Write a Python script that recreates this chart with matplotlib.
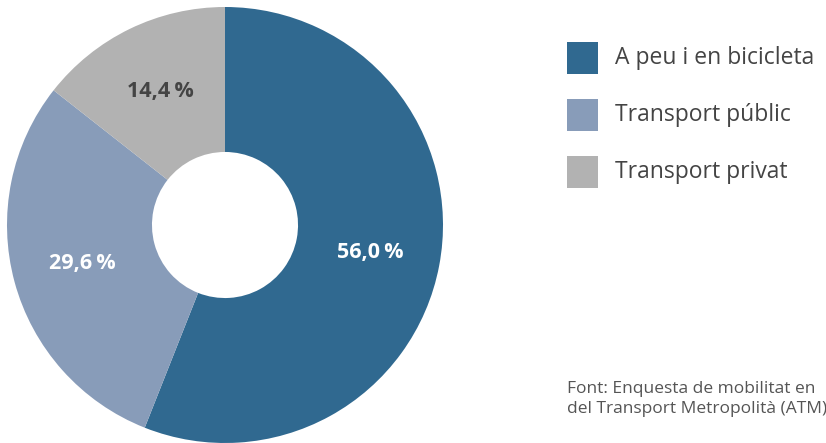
import matplotlib
matplotlib.use("Agg")
from matplotlib import pyplot as plt
from matplotlib.patches import Rectangle

labels = ["A peu i en bicicleta", "Transport públic", "Transport privat"]
values = [56.0, 29.6, 14.4]
colors = ["#306990", "#889cb9", "#b2b2b2"]
pct_colors = ["white", "white", "#444444"]
source = "Font: Enquesta de mobilitat en\ndel Transport Metropolità (ATM)"

plt.rcParams["font.family"] = ["Open Sans", "DejaVu Sans"]

fig = plt.figure(figsize=(8.26, 4.43), dpi=100)
ax = fig.add_axes([7 / 826, 0.0, 436 / 826, 436 / 443])

wedges, texts, autotexts = ax.pie(
    values,
    colors=colors,
    startangle=90,
    counterclock=False,
    radius=1.0,
    wedgeprops=dict(width=1 - 0.335, linewidth=0),
    autopct=lambda p: f"{p:.1f}".replace(".", ",") + "\u2009%",
    pctdistance=0.68,
)
for t, c in zip(autotexts, pct_colors):
    t.set_color(c)
    t.set_fontsize(15.5)
    t.set_fontweight("bold")
ax.set_xlim(-1, 1)
ax.set_ylim(-1, 1)
ax.set_aspect("equal")
ax.axis("off")

# legend
W, H = 826, 443
for i, (lab, col) in enumerate(zip(labels, colors)):
    yc = 58 + i * 57
    fig.patches.append(Rectangle((567 / W, (H - yc - 16) / H), 31 / W, 32 / H,
                                 transform=fig.transFigure, facecolor=col,
                                 edgecolor="none", figure=fig))
    fig.text(615 / W, (H - yc) / H, lab, fontsize=16.5, color="#444444",
             va="center", ha="left")

fig.text(567 / W, (H - 399) / H, source, fontsize=12.5, color="#555555",
         va="center", ha="left", linespacing=1.3)

fig.savefig("out.png", dpi=100)
